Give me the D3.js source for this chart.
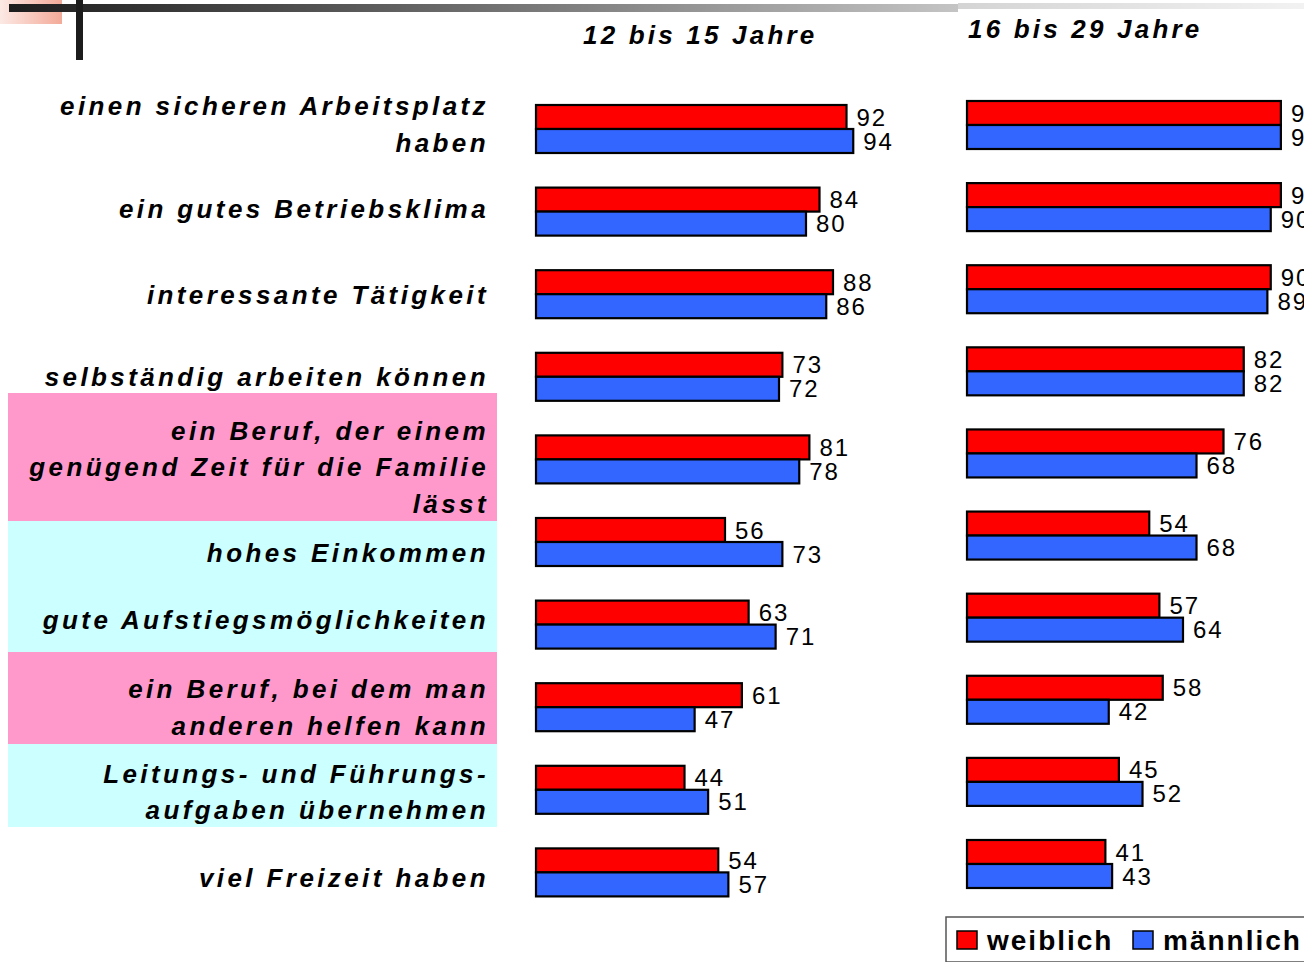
<!DOCTYPE html>
<head>
    <meta charset="utf-8">
    <script type="text/javascript" src="https://d3js.org/d3.v7.min.js"></script>
    <style>
        body { margin: 0; background: #fff; }
        .chart text { font-family: "Liberation Sans", Arial, sans-serif; fill: #000; }
        .cat { font-size: 26px; font-weight: bold; font-style: italic; letter-spacing: 3.4px; text-anchor: end; }
        .title { font-size: 26px; font-weight: bold; font-style: italic; letter-spacing: 3.2px; }
        .val { font-size: 24px; letter-spacing: 2px; }
        .leg { font-size: 28px; font-weight: bold; letter-spacing: 2px; }
        .bar { stroke: #000; stroke-width: 2.2; }
    </style>
</head>

<svg class="chart"></svg>

<script>

    var categoryLines = [
        ["einen sicheren Arbeitsplatz", "haben"],
        ["ein gutes Betriebsklima"],
        ["interessante Tätigkeit"],
        ["selbständig arbeiten können"],
        ["ein Beruf, der einem", "genügend Zeit für die Familie", "lässt"],
        ["hohes Einkommen"],
        ["gute Aufstiegsmöglichkeiten"],
        ["ein Beruf, bei dem man", "anderen helfen kann"],
        ["Leitungs- und Führungs-", "aufgaben übernehmen"],
        ["viel Freizeit haben"]
    ];
    var categories = categoryLines.map(function(l) { return l.join(" "); });

    var groups = ["12 bis 15 Jahre", "16 bis 29 Jahre"];
    var seriesNames = ["weiblich", "männlich"];

    var young_w = [92, 84, 88, 73, 81, 56, 63, 61, 44, 54];
    var young_m = [94, 80, 86, 72, 78, 73, 71, 47, 51, 57];
    var older_w = [93, 93, 90, 82, 76, 54, 57, 58, 45, 41];
    var older_m = [93, 90, 89, 82, 68, 68, 64, 42, 52, 43];

    var colors = ["#ff0000", "#3366ff"];

    var width = 1304, height = 962,
        barH = 24;

    var chart = d3.select(".chart")
        .attr("width", width)
        .attr("height", height);

    var defs = chart.append("defs");
    var g1 = defs.append("linearGradient").attr("id", "topbar");
    g1.append("stop").attr("offset", "0%").attr("stop-color", "#1c1c1c");
    g1.append("stop").attr("offset", "100%").attr("stop-color", "#c4c4c4");
    var g2 = defs.append("linearGradient").attr("id", "topbar2");
    g2.append("stop").attr("offset", "0%").attr("stop-color", "#d4d4d4");
    g2.append("stop").attr("offset", "100%").attr("stop-color", "#f2f2f2");
    var g3 = defs.append("linearGradient").attr("id", "corner");
    g3.append("stop").attr("offset", "0%").attr("stop-color", "#fce9e4");
    g3.append("stop").attr("offset", "100%").attr("stop-color", "#f3aa98");

    // slide decoration
    chart.append("rect").attr("x", 0).attr("y", 0).attr("width", 62).attr("height", 24).attr("fill", "url(#corner)");
    chart.append("rect").attr("x", 958).attr("y", 3).attr("width", 346).attr("height", 6).attr("fill", "url(#topbar2)");
    chart.append("rect").attr("x", 9).attr("y", 4).attr("width", 949).attr("height", 8).attr("fill", "url(#topbar)");
    chart.append("rect").attr("x", 76).attr("y", 0).attr("width", 7).attr("height", 60).attr("fill", "#1c1c1c");

    // highlighted label backgrounds
    var bands = [
        { y0: 393, y1: 521, c: "#ff99cc" },
        { y0: 521, y1: 652, c: "#ccffff" },
        { y0: 652, y1: 744, c: "#ff99cc" },
        { y0: 744, y1: 827, c: "#ccffff" }
    ];
    chart.selectAll(".band").data(bands).enter().append("rect")
        .attr("x", 8).attr("width", 489)
        .attr("y", function(d) { return d.y0; })
        .attr("height", function(d) { return d.y1 - d.y0; })
        .attr("fill", function(d) { return d.c; });

    var x = d3.scaleLinear().domain([0, 100]).range([0, 337.5]);

    var panels = [
        { x0: 536, y: d3.scalePoint().domain(categories).range([105, 848.4]), w: young_w, m: young_m, tx: 583, ty: 44 },
        { x0: 967, y: d3.scalePoint().domain(categories).range([101, 840]), w: older_w, m: older_m, tx: 968, ty: 38 }
    ];

    panels.forEach(function(p, pi) {
        var g = chart.append("g").attr("transform", "translate(" + p.x0 + ",0)");

        chart.append("text").attr("class", "title")
            .attr("x", p.tx).attr("y", p.ty)
            .text(groups[pi]);

        [p.w, p.m].forEach(function(vals, si) {
            var rows = g.selectAll(".s" + si)
                .data(categories.map(function(c, i) { return { c: c, v: vals[i] }; }))
                .enter().append("g");

            rows.append("rect")
                .attr("class", "bar")
                .attr("x", 0)
                .attr("y", function(d) { return p.y(d.c) + si * barH; })
                .attr("width", function(d) { return x(d.v); })
                .attr("height", barH)
                .attr("fill", colors[si]);

            rows.append("text")
                .attr("class", "val")
                .attr("x", function(d) { return x(d.v) + 10; })
                .attr("y", function(d) { return p.y(d.c) + (si + 1) * barH - 3.5; })
                .text(function(d) { return d.v; });
        });
    });

    // category labels, centred on the rows of the left panel
    var nudge = [-5, -3.5, 0, 0, 7.5, 10.5, -5.5, 0, 1.5, 5.5],
        lineH = 36.5;
    var yl = panels[0].y;
    categoryLines.forEach(function(lines, i) {
        var mid = yl(categories[i]) + barH + nudge[i];
        var first = mid + 9.5 - (lines.length - 1) * lineH / 2;
        var t = chart.append("text").attr("class", "cat");
        lines.forEach(function(l, j) {
            t.append("tspan").attr("x", 489).attr("y", first + j * lineH).text(l);
        });
    });

    // legend
    var leg = chart.append("g");
    leg.append("rect").attr("x", 946).attr("y", 917).attr("width", 400).attr("height", 45)
        .attr("fill", "#fff").attr("stroke", "#555").attr("stroke-width", 1.5);
    var legX = [957, 1133];
    seriesNames.forEach(function(s, i) {
        leg.append("rect").attr("x", legX[i]).attr("y", 931).attr("width", 20).attr("height", 18)
            .attr("fill", colors[i]).attr("stroke", "#000").attr("stroke-width", 1.5);
        leg.append("text").attr("class", "leg")
            .attr("x", legX[i] + 30).attr("y", 950).text(s);
    });

</script>
